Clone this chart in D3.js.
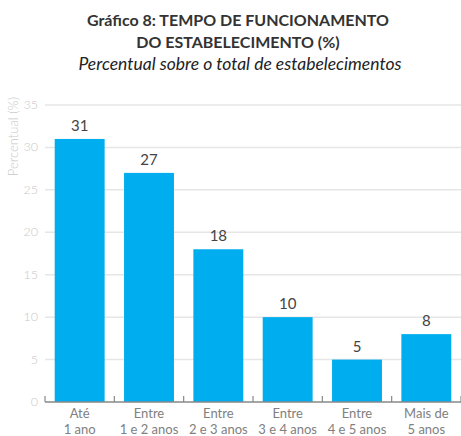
<!DOCTYPE html>
<html>
<head>
<meta charset="utf-8">
<script src="https://cdn.jsdelivr.net/npm/d3@7"></script>
<style>
  body { margin: 0; background: #fff; }
  text { font-family: Lato, "Open Sans", sans-serif; }
</style>
</head>
<body>
<div id="chart"></div>
<script>
// data
const categories = [["Até", "1 ano"], ["Entre", "1 e 2 anos"], ["Entre", "2 e 3 anos"],
  ["Entre", "3 e 4 anos"], ["Entre", "4 e 5 anos"], ["Mais de", "5 anos"]];
const values = [31, 27, 18, 10, 5, 8];
const yTicks = [0, 5, 10, 15, 20, 25, 30, 35];

const W = 461, H = 436;
const margin = {top: 105, right: 0, bottom: 34, left: 45};

const svg = d3.select("#chart").append("svg")
  .attr("width", W)
  .attr("height", H);

// titles
svg.append("text").attr("x", 238).attr("y", 26).attr("text-anchor", "middle")
  .style("font-size", "16px").style("font-weight", "bold").attr("fill", "#333")
  .text("Gráfico 8: TEMPO DE FUNCIONAMENTO");
svg.append("text").attr("x", 238).attr("y", 48).attr("text-anchor", "middle")
  .style("font-size", "16px").style("font-weight", "bold").attr("fill", "#333")
  .text("DO ESTABELECIMENTO (%)");
svg.append("text").attr("x", 240).attr("y", 70).attr("text-anchor", "middle")
  .style("font-size", "17.5px").style("font-style", "italic").attr("fill", "#222")
  .text("Percentual sobre o total de estabelecimentos");

const x = d3.scaleBand()
  .domain(d3.range(values.length))
  .range([margin.left, W - margin.right])
  .paddingInner(0.28)
  .paddingOuter(0.14);

const y = d3.scaleLinear()
  .domain([0, 35])
  .range([H - margin.bottom, margin.top]);

// grid + y labels
const g = svg.append("g");
g.selectAll("line.grid")
  .data(yTicks.filter(d => d > 0))
  .join("line")
  .attr("x1", margin.left).attr("x2", W)
  .attr("y1", d => y(d)).attr("y2", d => y(d))
  .attr("stroke", "#e6e6e6").attr("stroke-width", 1.5);

g.selectAll("text.yl")
  .data(yTicks)
  .join("text")
  .attr("x", 38).attr("y", d => y(d) + 4)
  .attr("text-anchor", "end")
  .style("font-size", "12.5px").style("font-weight", "300").attr("fill", "#c8c8c8")
  .text(d => d);

svg.append("text")
  .attr("transform", "translate(18,97) rotate(-90)")
  .attr("text-anchor", "end")
  .style("font-size", "13px").style("font-weight", "300").attr("fill", "#c8c8c8")
  .text("Percentual (%)");

// bars
svg.selectAll("rect.bar")
  .data(values)
  .join("rect")
  .attr("x", (d, i) => x(i))
  .attr("y", d => y(d))
  .attr("width", x.bandwidth())
  .attr("height", d => y(0) - y(d))
  .attr("fill", "#00adef");

svg.selectAll("text.val")
  .data(values)
  .join("text")
  .attr("x", (d, i) => x(i) + x.bandwidth() / 2)
  .attr("y", d => y(d) - 8)
  .attr("text-anchor", "middle")
  .style("font-size", "15px").attr("fill", "#444")
  .text(d => d);

// x axis baseline and ticks
const tickXs = d3.range(values.length + 1).map(i => margin.left + i * (W - margin.left) / values.length);
svg.append("line")
  .attr("x1", margin.left).attr("x2", W)
  .attr("y1", y(0)).attr("y2", y(0))
  .attr("stroke", "#888").attr("stroke-width", 1.5);
svg.selectAll("line.tick")
  .data(tickXs)
  .join("line")
  .attr("x1", d => d).attr("x2", d => d)
  .attr("y1", y(0)).attr("y2", y(0) - 6)
  .attr("stroke", "#888").attr("stroke-width", 1.2);

const xl = svg.selectAll("text.xl")
  .data(categories)
  .join("text")
  .attr("text-anchor", "middle")
  .style("font-size", "13px").attr("fill", "#808080");
xl.append("tspan")
  .attr("x", (d, i) => x(i) + x.bandwidth() / 2).attr("y", 418)
  .text(d => d[0]);
xl.append("tspan")
  .attr("x", (d, i) => x(i) + x.bandwidth() / 2).attr("y", 434)
  .text(d => d[1]);
</script>
</body>
</html>
